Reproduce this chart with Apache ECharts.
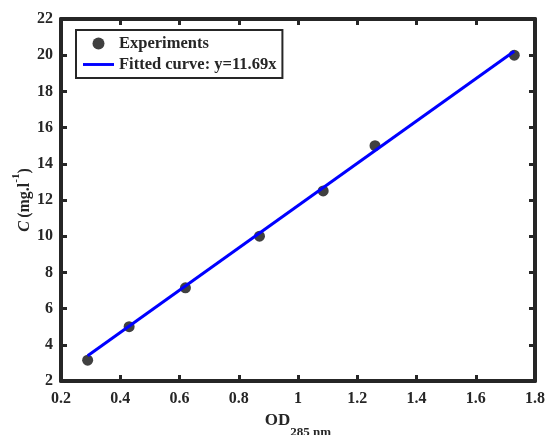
<!DOCTYPE html>
<html>
<head>
<meta charset="utf-8">
<script src="https://cdn.jsdelivr.net/npm/echarts@6/dist/echarts.min.js"></script>
<style>
  html, body { margin: 0; padding: 0; background: #fff; }
  #chart { width: 546px; height: 435px; }
</style>
</head>
<body>
<div id="chart"></div>
<script>
const odValues = [0.29, 0.43, 0.62, 0.87, 1.085, 1.26, 1.73]
const concValues = [3.15, 5.0, 7.15, 10.0, 12.5, 15.0, 20.0]
const fitX = [0.29, 1.73]
const fitY = [3.39, 20.22]
const expName = 'Experiments'
const fitName = 'Fitted curve: y=11.69x'

const ink = '#262626'
const font = 'Liberation Serif'

const chart = echarts.init(document.getElementById('chart'))

function pairs (xs, ys) {
  return xs.map((x, i) => [x, ys[i]])
}

const axisLine = { show: true, onZero: false, lineStyle: { color: ink, width: 4 } }
const axisTick = { show: true, inside: true, length: 6, lineStyle: { color: ink, width: 3 } }
const label = { color: ink, fontFamily: font, fontWeight: 'bold', fontSize: 16 }

const xBase = { type: 'value', min: 0.2, max: 1.8, interval: 0.2, splitLine: { show: false }, axisLine, axisTick }
const yBase = { type: 'value', min: 2, max: 22, interval: 2, splitLine: { show: false }, axisLine, axisTick }

chart.setOption({
  animation: false,
  backgroundColor: '#fff',
  grid: { left: 61, right: 11, top: 19, bottom: 54, outerBoundsMode: 'none' },
  legend: {
    left: 76,
    top: 30,
    orient: 'vertical',
    padding: [5, 6, 5, 7],
    itemGap: 4,
    itemWidth: 31,
    itemHeight: 12,
    borderColor: ink,
    borderWidth: 2,
    backgroundColor: '#fff',
    textStyle: { color: ink, fontFamily: font, fontWeight: 'bold', fontSize: 16.5 },
    data: [
      { name: expName, icon: 'circle', itemStyle: { color: '#404040', opacity: 1 } },
      { name: fitName, icon: 'path://M0,0 L32,0 L32,3 L0,3 Z', itemStyle: { color: '#0000ff' } }
    ]
  },
  xAxis: [
    Object.assign({}, xBase, {
      position: 'bottom',
      axisLabel: Object.assign({ margin: 10 }, label),
      name: '{n|OD}{sub|285 nm}',
      nameLocation: 'middle',
      nameGap: 30,
      nameTextStyle: {
        rich: {
          n: { fontFamily: font, fontWeight: 'bold', fontSize: 17, color: ink, lineHeight: 17, verticalAlign: 'top' },
          sub: { fontFamily: font, fontWeight: 'bold', fontSize: 13, color: ink, lineHeight: 41 }
        }
      }
    }),
    Object.assign({}, xBase, { position: 'top', axisLabel: { show: false } })
  ],
  yAxis: [
    Object.assign({}, yBase, {
      position: 'left',
      axisLabel: Object.assign({ margin: 8 }, label),
      name: '{i|C} {n|(mg.l}{sup|-1}{n|)}',
      nameLocation: 'middle',
      nameRotate: 90,
      nameGap: 22,
      nameMoveOverlap: false,
      nameTextStyle: {
        rich: {
          i: { fontFamily: font, fontWeight: 'bold', fontStyle: 'italic', fontSize: 16, color: ink, lineHeight: 28 },
          n: { fontFamily: font, fontWeight: 'bold', fontSize: 16, color: ink, lineHeight: 28 },
          sup: { fontFamily: font, fontWeight: 'bold', fontSize: 11, color: ink, lineHeight: 17, verticalAlign: 'top' }
        }
      }
    }),
    Object.assign({}, yBase, { position: 'right', axisLabel: { show: false } })
  ],
  series: [
    {
      name: expName,
      type: 'scatter',
      symbol: 'circle',
      symbolSize: 11,
      itemStyle: { color: '#404040', opacity: 1 },
      z: 2,
      data: pairs(odValues, concValues)
    },
    {
      name: fitName,
      type: 'line',
      symbol: 'none',
      lineStyle: { color: '#0000ff', width: 3 },
      itemStyle: { color: '#0000ff' },
      z: 3,
      data: pairs(fitX, fitY)
    }
  ]
})
</script>
</body>
</html>
